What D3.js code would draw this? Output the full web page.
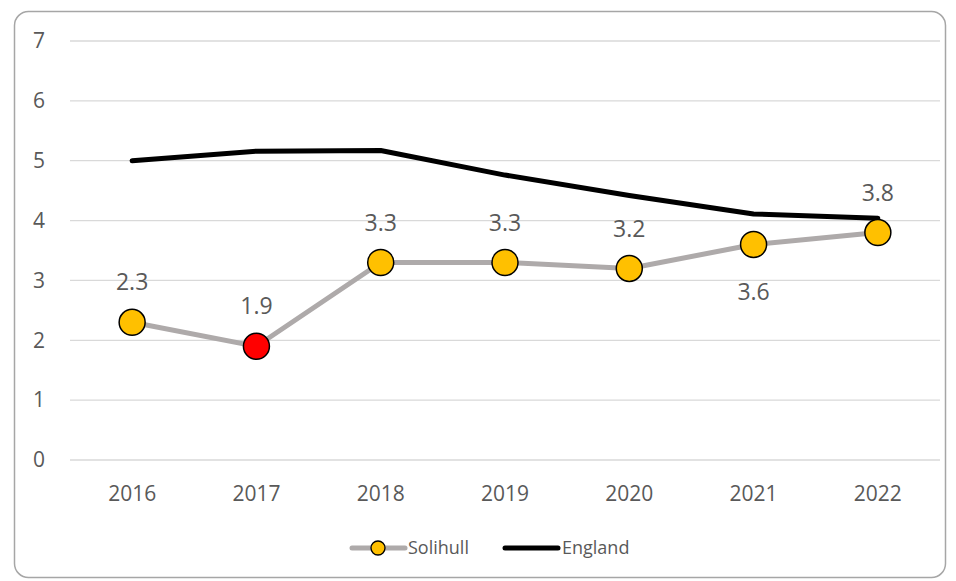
<!DOCTYPE html>
<html>
<head>
<meta charset="utf-8">
<script src="https://cdn.jsdelivr.net/npm/d3@7"></script>
<style>
  body { margin: 0; background: #fff; }
  text { font-family: "Open Sans", "Noto Sans", sans-serif; fill: #595959; }
</style>
</head>
<body>
<div id="chart"></div>
<script>
const years = ["2016", "2017", "2018", "2019", "2020", "2021", "2022"];
const solihull = [2.3, 1.9, 3.3, 3.3, 3.2, 3.6, 3.8];
const england = [5.0, 5.16, 5.17, 4.76, 4.42, 4.11, 4.04];
const yTicks = [0, 1, 2, 3, 4, 5, 6, 7];
// which Solihull labels sit below the marker
const labelBelow = [false, false, false, false, false, true, false];

const width = 956, height = 581;
const svg = d3.select("#chart").append("svg")
    .attr("width", width)
    .attr("height", height);

// outer frame
svg.append("rect")
    .attr("x", 14.5).attr("y", 11.5)
    .attr("width", 931).attr("height", 566)
    .attr("rx", 14)
    .attr("fill", "#fff")
    .attr("stroke", "#a6a6a6")
    .attr("stroke-width", 1.5);

const x = d3.scaleBand().domain(years).range([70, 940]);
const y = d3.scaleLinear().domain([0, 7]).range([460, 41]);
const cx = d => x(d) + x.bandwidth() / 2;

// gridlines
svg.append("g").selectAll("line")
    .data(yTicks)
    .enter().append("line")
    .attr("x1", 70).attr("x2", 940)
    .attr("y1", d => y(d)).attr("y2", d => y(d))
    .attr("stroke", "#d9d9d9")
    .attr("stroke-width", 1.3);

// y labels
svg.append("g").selectAll("text")
    .data(yTicks)
    .enter().append("text")
    .attr("x", 39).attr("y", d => y(d))
    .attr("dy", "0.35em")
    .attr("text-anchor", "middle")
    .style("font-size", "21px")
    .text(d => d);

// x labels
svg.append("g").selectAll("text")
    .data(years)
    .enter().append("text")
    .attr("x", d => cx(d)).attr("y", 494)
    .attr("dy", "0.35em")
    .attr("text-anchor", "middle")
    .style("font-size", "21px")
    .text(d => d);

const line = d3.line()
    .x((d, i) => cx(years[i]))
    .y(d => y(d));

svg.append("path")
    .datum(england)
    .attr("fill", "none")
    .attr("stroke", "#000")
    .attr("stroke-width", 5)
    .attr("stroke-linejoin", "round")
    .attr("stroke-linecap", "round")
    .attr("d", line);

svg.append("path")
    .datum(solihull)
    .attr("fill", "none")
    .attr("stroke", "#aeaaaa")
    .attr("stroke-width", 5)
    .attr("stroke-linejoin", "round")
    .attr("d", line);

svg.append("g").selectAll("circle")
    .data(solihull)
    .enter().append("circle")
    .attr("cx", (d, i) => cx(years[i]))
    .attr("cy", d => y(d))
    .attr("r", 13)
    .attr("fill", (d, i) => i === 1 ? "#ff0000" : "#ffc000")
    .attr("stroke", "#000")
    .attr("stroke-width", 1.5);

svg.append("g").selectAll("text")
    .data(solihull)
    .enter().append("text")
    .attr("x", (d, i) => cx(years[i]))
    .attr("y", (d, i) => labelBelow[i] ? y(d) + 47 : y(d) - 40)
    .attr("dy", "0.35em")
    .attr("text-anchor", "middle")
    .style("font-size", "23px")
    .text(d => d.toFixed(1));

// legend
const lg = svg.append("g");
lg.append("line")
    .attr("x1", 352).attr("x2", 405).attr("y1", 548).attr("y2", 548)
    .attr("stroke", "#aeaaaa").attr("stroke-width", 5).attr("stroke-linecap", "round");
lg.append("circle")
    .attr("cx", 378).attr("cy", 548).attr("r", 7)
    .attr("fill", "#ffc000").attr("stroke", "#000").attr("stroke-width", 1.3);
lg.append("text")
    .attr("x", 408).attr("y", 548).attr("dy", "0.35em")
    .style("font-size", "18px")
    .text("Solihull");
lg.append("line")
    .attr("x1", 505).attr("x2", 558).attr("y1", 548).attr("y2", 548)
    .attr("stroke", "#000").attr("stroke-width", 5).attr("stroke-linecap", "round");
lg.append("text")
    .attr("x", 562).attr("y", 548).attr("dy", "0.35em")
    .style("font-size", "18px")
    .text("England");
</script>
</body>
</html>
